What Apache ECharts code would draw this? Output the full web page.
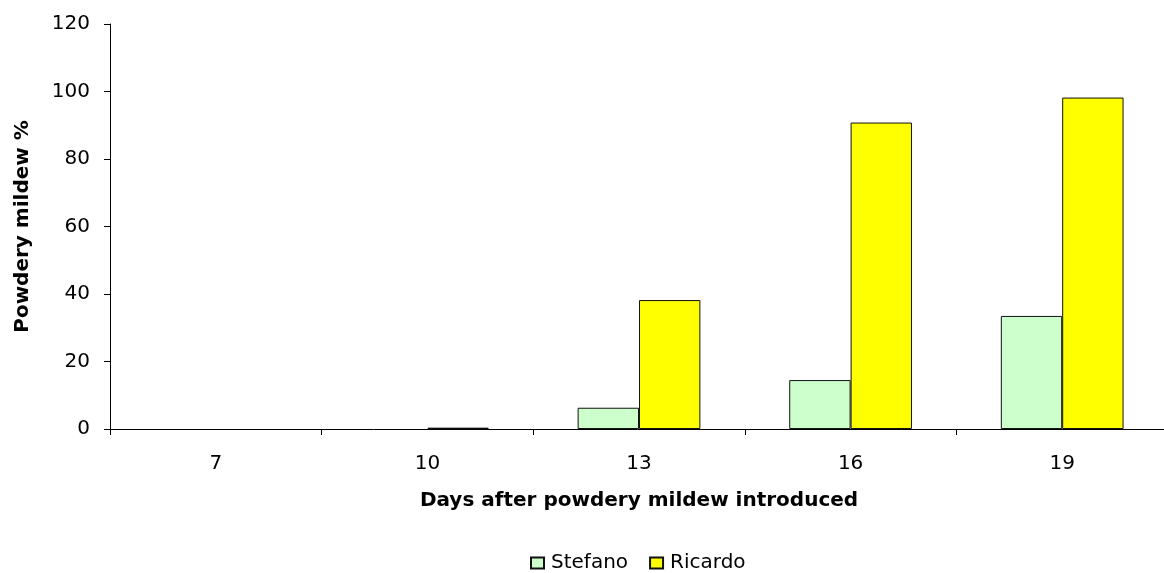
<!DOCTYPE html>
<html>
<head>
<meta charset="utf-8">
<script src="https://cdn.jsdelivr.net/npm/echarts@6/dist/echarts.min.js"></script>
<style>
  html, body { margin: 0; padding: 0; background: #fff; }
  #chart { width: 1164px; height: 573px; }
</style>
</head>
<body>
<div id="chart"></div>
<script>
// Days after powdery mildew was introduced
const days = ['7', '10', '13', '16', '19'];
// Powdery mildew (%) per cultivar
const stefano = [0, 0, 6.3, 14.5, 33.5];
const ricardo = [0, 0.4, 38.2, 90.8, 98.2];
// Value axis ticks
const yMin = 0, yMax = 120, yStep = 20;

const font = 'DejaVu Sans, Liberation Sans, Arial, sans-serif';
// zero readings draw no bar (no outline along the axis)
const bars = arr => arr.map(v => (v === 0 ? '-' : v));

const chart = echarts.init(document.getElementById('chart'), null, { renderer: 'canvas' });

chart.setOption({
  animation: false,
  backgroundColor: '#ffffff',
  textStyle: { fontFamily: font, color: '#000' },
  grid: { left: 110, top: 24, width: 1058, height: 405, outerBoundsMode: 'none', containLabel: false },
  legend: {
    top: 553,
    left: 530,
    padding: 0,
    itemWidth: 13,
    itemHeight: 11,
    itemGap: 21,
    icon: 'rect',
    textStyle: { fontFamily: font, fontSize: 20, color: '#000', padding: [0, 0, 0, 2] },
    data: ['Stefano', 'Ricardo']
  },
  xAxis: {
    type: 'category',
    data: days,
    name: 'Days after powdery mildew introduced',
    nameLocation: 'middle',
    nameGap: 62,
    nameTextStyle: { fontFamily: font, fontSize: 20, fontWeight: 'bold', color: '#000' },
    axisLine: { lineStyle: { color: '#000', width: 1 } },
    axisTick: { show: true, length: 6, lineStyle: { color: '#000' } },
    axisLabel: { fontFamily: font, fontSize: 20, color: '#000', margin: 25 }
  },
  yAxis: {
    type: 'value',
    min: yMin,
    max: yMax,
    interval: yStep,
    name: 'Powdery mildew %',
    nameLocation: 'middle',
    nameGap: 77,
    nameTextStyle: { fontFamily: font, fontSize: 20, fontWeight: 'bold', color: '#000' },
    axisLine: { show: true, lineStyle: { color: '#000', width: 1 } },
    axisTick: { show: true, length: 6, lineStyle: { color: '#000' } },
    axisLabel: { fontFamily: font, fontSize: 20, color: '#000', margin: 20 },
    splitLine: { show: false }
  },
  series: [
    {
      name: 'Stefano',
      type: 'bar',
      data: bars(stefano),
      barGap: '0%',
      barCategoryGap: '42%',
      itemStyle: { color: '#CCFFCC', borderColor: '#111', borderWidth: 1 }
    },
    {
      name: 'Ricardo',
      type: 'bar',
      data: bars(ricardo),
      barGap: '0%',
      barCategoryGap: '42%',
      itemStyle: { color: '#FFFF00', borderColor: '#111', borderWidth: 1 }
    }
  ]
});
</script>
</body>
</html>
